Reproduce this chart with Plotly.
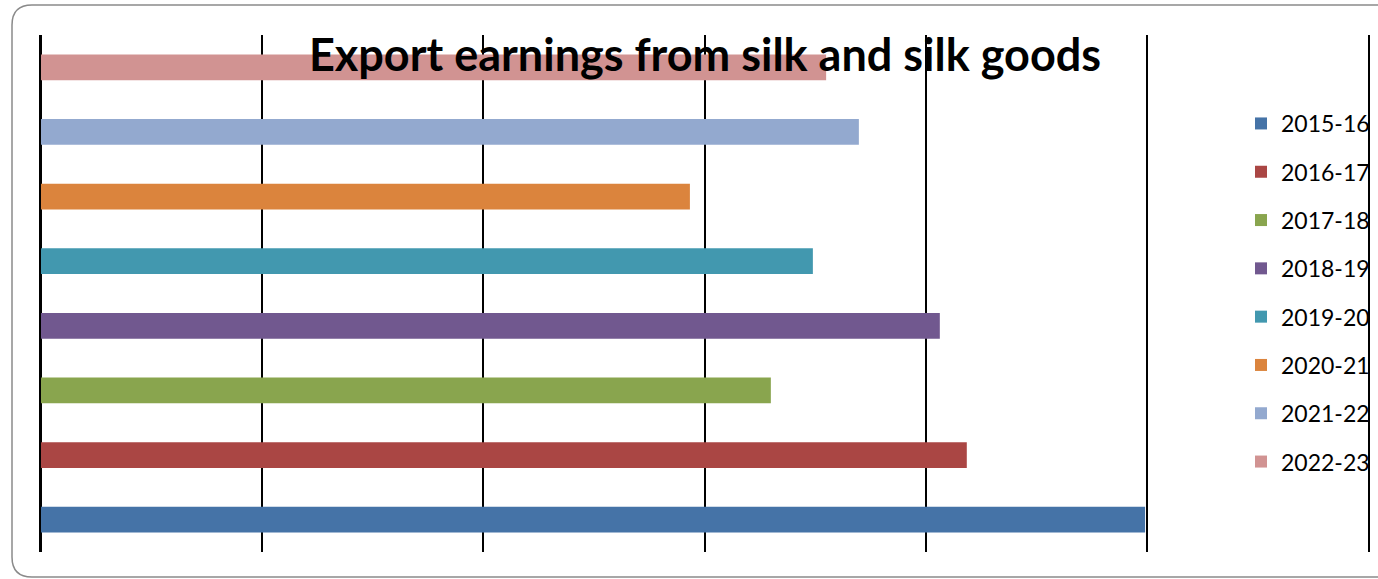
import plotly.graph_objects as go

# Export earnings from silk and silk goods, by financial year
years = ["2015-16", "2016-17", "2017-18", "2018-19",
         "2019-20", "2020-21", "2021-22", "2022-23"]
earnings = [2496, 2093, 1650, 2032, 1745, 1467, 1849, 1775]
colors = ["#4573A7", "#AA4644", "#89A54E", "#71588F",
          "#4298AF", "#DB843D", "#93A9CF", "#D19392"]

W, H = 1378, 579
M_L, M_R, M_T, M_B = 41, 10, 35, 27
plot_w = W - M_L - M_R
plot_h = H - M_T - M_B

fig = go.Figure()
for yr, val, col in zip(years, earnings, colors):
    fig.add_trace(go.Bar(
        x=[val], y=[yr], name=yr, orientation="h",
        marker=dict(color=col, line=dict(width=0)),
        width=0.4, legendgroup=yr,
    ))


def px_x(p):
    return (p - M_L) / plot_w


def px_y(p):
    return (H - M_B - p) / plot_h


# rounded chart frame
x0, x1 = px_x(12), px_x(1395)
y0, y1 = px_y(577), px_y(5)
rx, ry = 20 / plot_w, 20 / plot_h
frame = (
    f"M {x0},{y0 + ry} L {x0},{y1 - ry} Q {x0},{y1} {x0 + rx},{y1} "
    f"L {x1},{y1} L {x1},{y0} L {x0 + rx},{y0} Q {x0},{y0} {x0},{y0 + ry} Z"
)
fig.add_shape(type="path", path=frame, xref="paper", yref="paper",
              line=dict(color="#8a8a8a", width=1.5), layer="below")

fig.update_layout(
    width=W, height=H,
    margin=dict(l=M_L, r=M_R, t=M_T, b=M_B, autoexpand=False),
    paper_bgcolor="white", plot_bgcolor="white",
    barmode="overlay",
    font=dict(family="Lato", color="black"),
    title=dict(
        text="<b>Export earnings from silk and silk goods</b>",
        font=dict(family="Lato", size=45, color="black"),
        x=px_x(705), xref="paper", xanchor="center",
        y=1 - 55 / H, yref="container", yanchor="middle",
    ),
    xaxis=dict(
        range=[0, 3000], dtick=500, tick0=0,
        showticklabels=False, ticks="",
        showgrid=True, gridcolor="black", gridwidth=1.5,
        zeroline=True, zerolinecolor="black", zerolinewidth=1.5,
        showline=False, fixedrange=True,
    ),
    yaxis=dict(
        categoryorder="array", categoryarray=years,
        showticklabels=False, ticks="", showgrid=False,
        zeroline=False, fixedrange=True,
        showline=True, linecolor="black", linewidth=1.5, mirror=True,
    ),
    legend=dict(
        x=px_x(1241), xanchor="left",
        y=px_y(102), yanchor="top",
        font=dict(family="Lato", size=23, color="black"),
        bgcolor="rgba(0,0,0,0)",
        traceorder="grouped", tracegroupgap=15.4,
        itemwidth=30,
    ),
    showlegend=True,
)

fig.write_html("out.html")
